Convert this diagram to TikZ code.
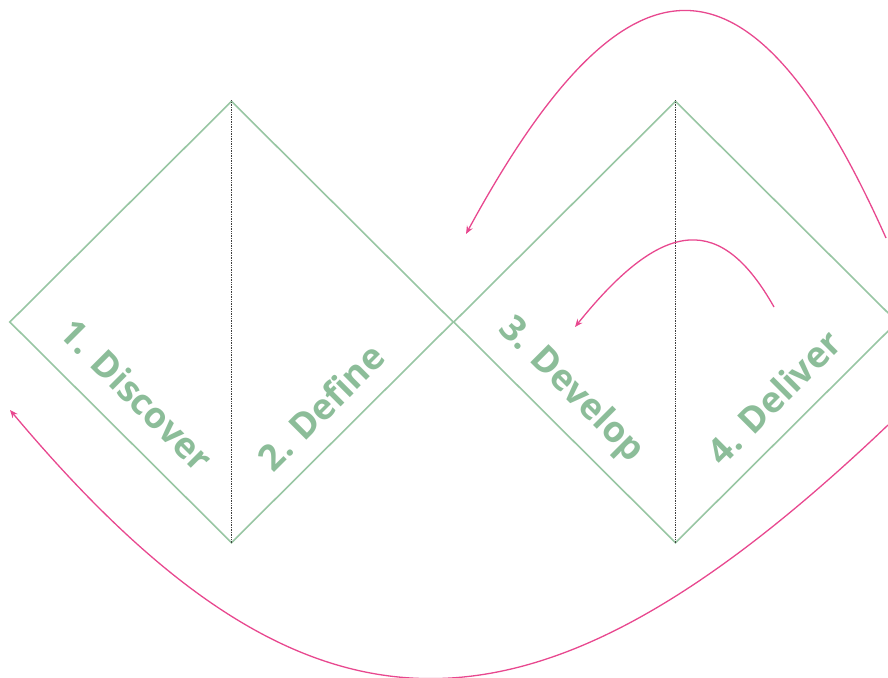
\documentclass[tikz,border=0pt]{standalone}
\usepackage{fontspec}
\setmainfont{Open Sans}
\usepackage{tikz}
\usetikzlibrary{positioning, arrows.meta, shapes.geometric}
\definecolor{phaseGreen}{HTML}{8CBD99}
\definecolor{lineGreen}{HTML}{98C6A3}
\definecolor{loopPink}{HTML}{E8488F}

\begin{document}
\begin{tikzpicture}[
  x=1pt, y=-1pt,
  every node/.style={font=\fontsize{36}{36}\selectfont\bfseries},
  phase/.style={
    diamond, draw=lineGreen, line width=1.6pt,
    minimum width=444pt, minimum height=442pt, inner sep=0pt
  },
  divider/.style={black!75, line width=0.8pt, dash pattern=on 0.8pt off 0.9pt},
  steplabel/.style={text=phaseGreen, inner sep=0pt},
  loop/.style={loopPink, line width=1.3pt, -{Stealth[length=8pt, width=6.5pt]}},
]
\useasboundingbox (0,0) rectangle (888,677);

% Diamonds
\node[phase] (diverge) at (231.5,322) {};
\node[phase] (converge) at (675.5,322) {};

% Dividers
\draw[divider] (diverge.north) -- (diverge.south);
\draw[divider] (converge.north) -- (converge.south);

% Labels
\node[steplabel, rotate=-45] (discover) at (137,395) {1. Discover};
\node[steplabel, rotate=45] (define) at (321,407) {2. Define};
\node[steplabel, rotate=-45] (develop) at (571,390) {3. Develop};
\node[steplabel, rotate=45] (deliver) at (774,397) {4. Deliver};

% Loop ends
\coordinate (topstart) at (886,238);
\coordinate (topend) at (466,234);
\coordinate (smallstart) at (774,307);
\coordinate (smallend) at (575,327);
\coordinate (botstart) at (888,425);
\coordinate (botend) at (10,410);

% Loops
\draw[loop] (topstart) .. controls (751,-64) and (628,-64) .. (topend);
\draw[loop] (smallstart) .. controls (722,215) and (665,215) .. (smallend);
\draw[loop] (botstart) .. controls (531,765) and (308,765) .. (botend);

\end{tikzpicture}
\end{document}
